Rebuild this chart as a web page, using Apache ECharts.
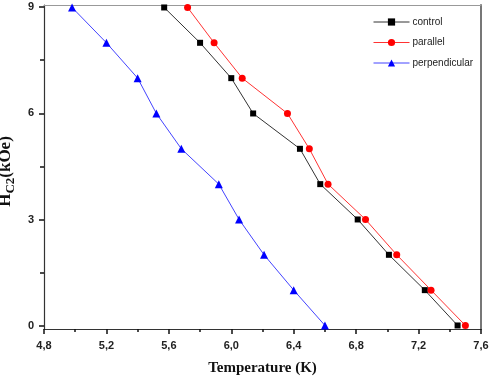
<!DOCTYPE html>
<html>
<head>
<meta charset="utf-8">
<script src="https://cdn.jsdelivr.net/npm/echarts@6/dist/echarts.min.js"></script>
<style>html,body{margin:0;padding:0;background:#fff}#c{width:489px;height:377px}</style>
</head>
<body>
<div id="c"></div>
<script>
const fieldValues = [9, 8, 7, 6, 5, 4, 3, 2, 1, 0];
const controlT = [5.57, 5.80, 6.00, 6.14, 6.44, 6.57, 6.81, 7.01, 7.24, 7.45];
const parallelT = [5.72, 5.89, 6.07, 6.36, 6.50, 6.62, 6.86, 7.06, 7.28, 7.50];
const perpendicularT = [4.98, 5.20, 5.40, 5.52, 5.68, 5.92, 6.05, 6.21, 6.40, 6.60];
const xRange = [4.8, 7.6];
const xStep = 0.4;
const yRange = [0, 9];
const yStep = 3;

const pairs = (xs) => xs.map((x, i) => [x, fieldValues[i]]);
const chart = echarts.init(document.getElementById('c'), null, {renderer: 'canvas'});
const axisColor = '#333';
const tickColor = '#111';
const labelFont = {fontFamily: 'Liberation Sans, Arial', fontWeight: 'bold', fontSize: 11, color: '#222'};

chart.setOption({
  animation: false,
  backgroundColor: '#fff',
  grid: [
    {left: 44, right: 8, top: 5, bottom: 48, outerBoundsMode: 'none', containLabel: false},
    {left: 44, right: 8, top: 7, bottom: 51, outerBoundsMode: 'none', containLabel: false}
  ],
  legend: {
    orient: 'vertical', left: 368, top: 12, itemWidth: 36, itemHeight: 9, itemGap: 10.5,
    itemStyle: {borderWidth: 0},
    lineStyle: {width: 1},
    textStyle: {fontFamily: 'Liberation Sans, Arial', fontSize: 10, color: '#222', padding: [0, 0, 0, -2]},
    data: ['control', 'parallel', 'perpendicular']
  },
  xAxis: [{
    gridIndex: 0, type: 'value', min: xRange[0], max: xRange[1], interval: xStep,
    name: 'Temperature (K)', nameLocation: 'middle', nameGap: 32,
    nameTextStyle: {fontFamily: 'Liberation Serif, Times New Roman', fontWeight: 'bold', fontSize: 15, color: '#111'},
    axisLine: {show: true, onZero: false, lineStyle: {color: axisColor, width: 1.2}},
    axisTick: {show: true, length: 5, lineStyle: {color: tickColor, width: 1.5}},
    minorTick: {show: true, splitNumber: 2, length: 3, lineStyle: {color: tickColor, width: 1.5}},
    axisLabel: Object.assign({margin: 11, formatter: v => v.toFixed(1).replace('.', ',')}, labelFont),
    splitLine: {show: false}, minorSplitLine: {show: false}
  }, {
    gridIndex: 0, type: 'value', min: xRange[0], max: xRange[1], position: 'top',
    axisLine: {show: true, onZero: false, lineStyle: {color: '#999', width: 1.2}},
    axisTick: {show: false}, axisLabel: {show: false}, splitLine: {show: false}
  }, {
    gridIndex: 1, type: 'value', min: xRange[0], max: xRange[1], show: false
  }],
  yAxis: [{
    gridIndex: 0, type: 'value', min: -0.1, max: 9.07,
    axisLine: {show: true, onZero: false, lineStyle: {color: axisColor, width: 1.2}},
    axisTick: {show: false}, axisLabel: {show: false}, splitLine: {show: false}
  }, {
    gridIndex: 0, type: 'value', min: -0.1, max: 9.07, position: 'right',
    axisLine: {show: true, onZero: false, lineStyle: {color: '#777', width: 2}},
    axisTick: {show: false}, axisLabel: {show: false}, splitLine: {show: false}
  }, {
    gridIndex: 1, type: 'value', min: yRange[0], max: yRange[1], interval: yStep,
    name: '{h|H}{s|C2}{h|(kOe)}', nameLocation: 'middle', nameGap: 19, nameRotate: 90,
    nameTextStyle: {
      padding: [0, 10, 0, 0],
      rich: {
        h: {fontFamily: 'Liberation Serif, Times New Roman', fontWeight: 'bold', fontSize: 17, color: '#111'},
        s: {fontFamily: 'Liberation Serif, Times New Roman', fontWeight: 'bold', fontSize: 13, color: '#111', padding: [10, 0, 0, 0]}
      }
    },
    axisLine: {show: false},
    axisTick: {show: true, length: 5, lineStyle: {color: tickColor, width: 1.5}},
    minorTick: {show: true, splitNumber: 2, length: 4, lineStyle: {color: tickColor, width: 1.5}},
    axisLabel: Object.assign({margin: 10, formatter: v => String(v)}, labelFont),
    splitLine: {show: false}, minorSplitLine: {show: false}
  }],
  series: [{
    name: 'control', type: 'line', data: pairs(controlT),
    symbol: 'rect', symbolSize: 6,
    itemStyle: {color: '#000'}, lineStyle: {color: '#333', width: 1}
  }, {
    name: 'parallel', type: 'line', data: pairs(parallelT),
    symbol: 'circle', symbolSize: 7,
    itemStyle: {color: '#ff0000'}, lineStyle: {color: '#ff3333', width: 1}
  }, {
    name: 'perpendicular', type: 'line', data: pairs(perpendicularT),
    symbol: 'triangle', symbolSize: 8,
    itemStyle: {color: '#0000ff'}, lineStyle: {color: '#4444ff', width: 1}
  }]
});
</script>
</body>
</html>
